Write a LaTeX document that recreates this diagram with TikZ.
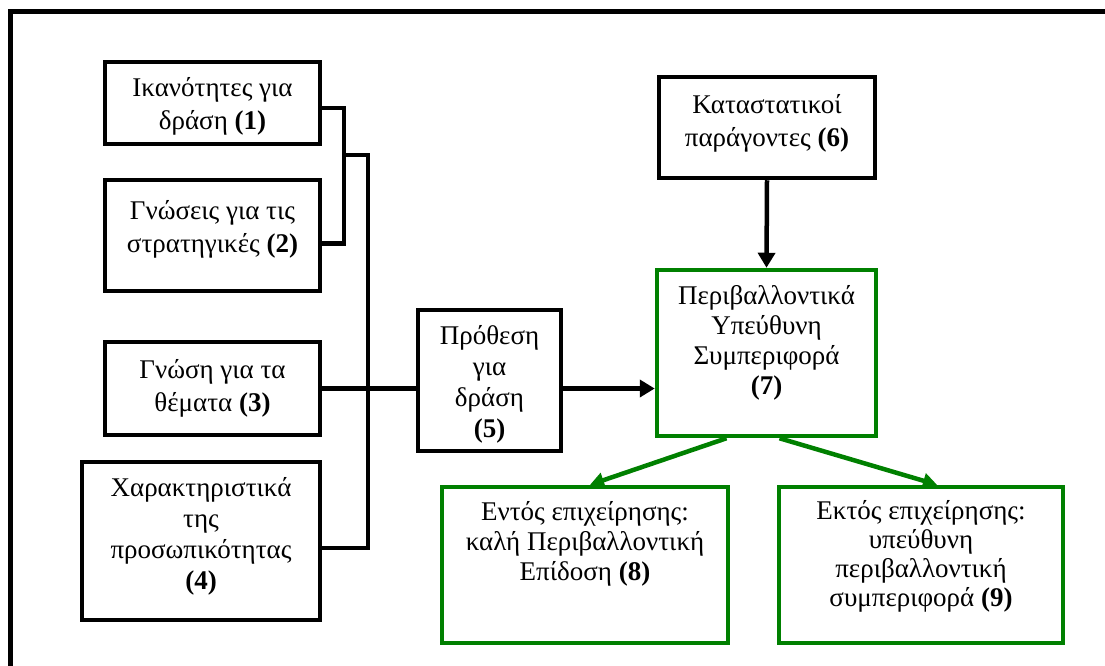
\documentclass[tikz,border=0pt]{standalone}
\usepackage{fontspec}
\setmainfont{Liberation Serif}
\usetikzlibrary{arrows.meta}

\definecolor{envgreen}{RGB}{0,128,0}
\newcommand{\firstline}{\rule{0pt}{20pt}}

\tikzset{
  blackbox/.style={draw=black, line width=4.5pt, rectangle, inner sep=0pt},
  greenbox/.style={draw=envgreen, line width=4.5pt, rectangle, inner sep=0pt},
  boxtext/.style={anchor=north, align=center, inner sep=0pt, font=\fontsize{27}{#1}\selectfont},
  boxtext/.default=31,
  conn/.style={line width=4.5pt},
  arrowline/.style={line width=4.5pt, -{Triangle[length=15pt,width=17pt]}},
  greenarrow/.style={draw=envgreen, line width=4.5pt, -{Triangle[length=14pt,width=15pt]}},
}

\begin{document}
\begin{tikzpicture}[x=1pt, y=-1pt]
  \useasboundingbox (0,0) rectangle (1105,666);
  % frame
  \draw[line width=5pt] (1105,12) -- (10,12) -- (10,666);

  % left column
  \node[blackbox, minimum width=215pt, minimum height=82pt] (b1) at (212.5,103) {};
  \node[blackbox, minimum width=215pt, minimum height=111pt] (b2) at (212.5,235.5) {};
  \node[blackbox, minimum width=215pt, minimum height=93pt] (b3) at (212.5,388.5) {};
  \node[blackbox, minimum width=238pt, minimum height=158pt] (b4) at (201,541) {};
  \node[boxtext=33] (t1) at ([yshift=-17pt]b1.north) {\firstline Ικανότητες για\\δράση \textbf{(1)}};
  \node[boxtext=33] (t2) at ([yshift=-22pt]b2.north) {\firstline Γνώσεις για τις\\στρατηγικές \textbf{(2)}};
  \node[boxtext=33] (t3) at ([yshift=-19pt]b3.north) {\firstline Γνώση για τα\\θέματα \textbf{(3)}};
  \node[boxtext] (t4) at ([yshift=-17pt]b4.north) {\firstline Χαρακτηριστικά\\της\\προσωπικότητας\\\textbf{(4)}};

  % middle
  \node[blackbox, minimum width=143pt, minimum height=141pt] (b5) at (489.5,380.5) {};
  \node[boxtext] (t5) at ([yshift=-17pt]b5.north) {\firstline Πρόθεση\\για\\δράση\\\textbf{(5)}};

  % right column
  \node[blackbox, minimum width=216pt, minimum height=101pt] (b6) at (767,127.5) {};
  \node[greenbox, minimum width=219pt, minimum height=166pt] (b7) at (766.5,353) {};
  \node[greenbox, minimum width=286pt, minimum height=156pt] (b8) at (585,565) {};
  \node[greenbox, minimum width=284pt, minimum height=156pt] (b9) at (921,565) {};
  \node[boxtext=33] (t6) at ([yshift=-19pt]b6.north) {\firstline Καταστατικοί\\παράγοντες \textbf{(6)}};
  \node[boxtext=30] (t7) at ([yshift=-17pt]b7.north) {\firstline Περιβαλλοντικά\\Υπεύθυνη\\Συμπεριφορά\\\textbf{(7)}};
  \node[boxtext=30] (t8) at ([yshift=-16pt]b8.north) {\firstline Εντός επιχείρησης:\\καλή Περιβαλλοντική\\Επίδοση \textbf{(8)}};
  \node[boxtext=29] (t9) at ([yshift=-15pt]b9.north) {\firstline Εκτός επιχείρησης:\\υπεύθυνη\\περιβαλλοντική\\συμπεριφορά \textbf{(9)}};

  % connectors
  \coordinate (j1) at (344,155);
  \coordinate (j2) at (368,155);
  \draw[conn] ([yshift=-5pt]b1.east) -| (j1) |- ([yshift=-8pt]b2.east);
  \draw[conn] (j1) -- (j2) |- ([yshift=-7pt]b4.east);
  \draw[conn] (b3.east) -- (b3.east -| b5.west);
  \draw[arrowline] (b3.east -| b5.east) -- (b3.east -| b7.west);
  \draw[arrowline] (b6.south) -- (b7.north);
  \draw[greenarrow] ([xshift=-40pt]b7.south) -- ([xshift=5pt]b8.north);
  \draw[greenarrow] ([xshift=13pt]b7.south) -- ([xshift=16pt]b9.north);
\end{tikzpicture}
\end{document}
